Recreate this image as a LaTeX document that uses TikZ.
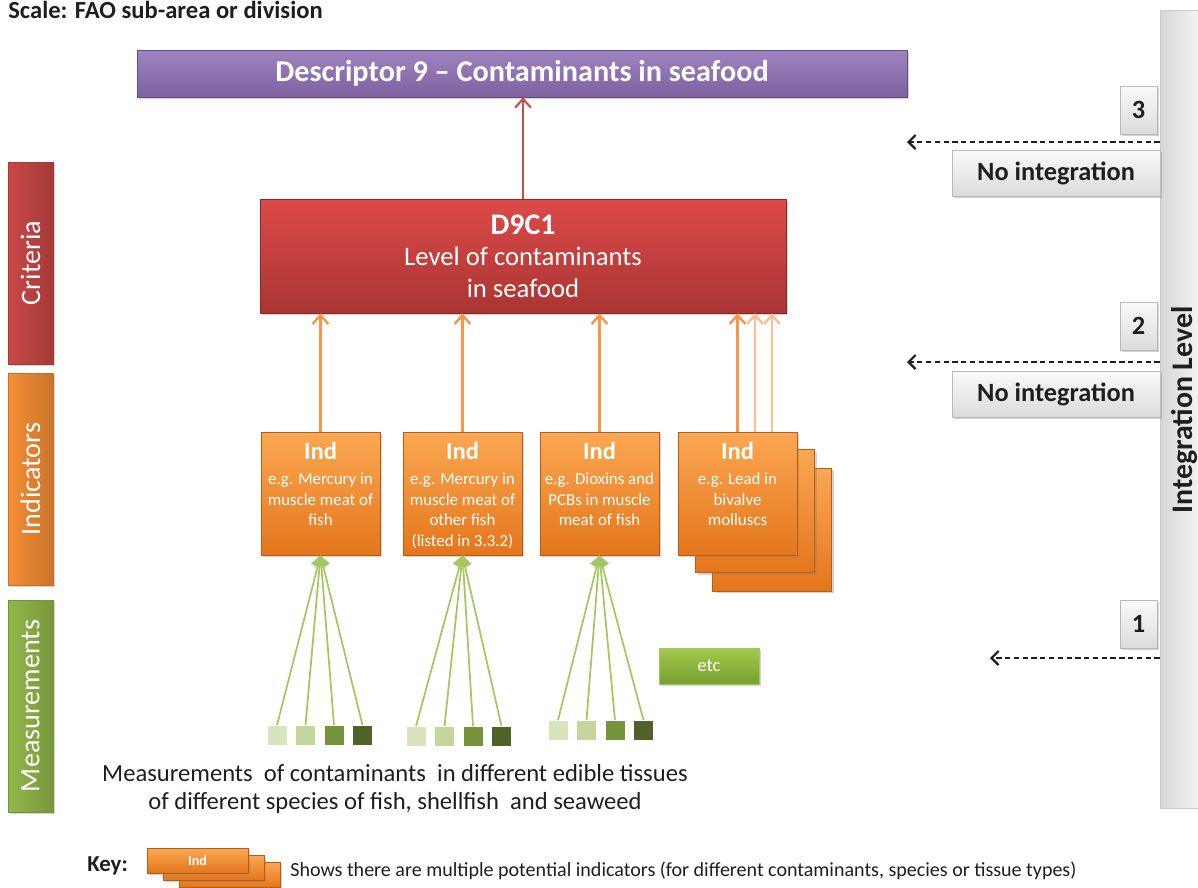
\documentclass[tikz,border=0pt]{standalone}
\usepackage{fontspec}
\setmainfont{Carlito}
\usepackage{tikz}
\usetikzlibrary{arrows.meta, shadows, positioning}

\definecolor{desctop}{HTML}{9E84C0}
\definecolor{descbot}{HTML}{7E619F}
\definecolor{crittop}{HTML}{DC4A48}
\definecolor{critbot}{HTML}{A93533}
\definecolor{indtop}{HTML}{FBA852}
\definecolor{indbot}{HTML}{E4761C}
\definecolor{grntop}{HTML}{A2C84E}
\definecolor{grnbot}{HTML}{76A030}
\definecolor{oline}{HTML}{F79646}
\definecolor{oline2}{HTML}{FAC090}
\definecolor{rline}{HTML}{C0504D}
\definecolor{gline}{HTML}{A5C663}
\definecolor{sqa}{HTML}{D7E4BD}
\definecolor{sqb}{HTML}{C3D69B}
\definecolor{sqc}{HTML}{77933C}
\definecolor{sqd}{HTML}{4F6228}
\definecolor{sidered}{HTML}{C94846}
\definecolor{sideorg}{HTML}{F58E34}
\definecolor{sidegrn}{HTML}{92B84A}
\definecolor{ink}{HTML}{1E1E1E}

\newcommand{\indhead}{{\fontsize{14}{16}\selectfont\bfseries Ind}}

\begin{document}
\begin{tikzpicture}[x=0.02cm, y=-0.02cm,
      shad/.style={drop shadow={opacity=.35, shadow xshift=1.2pt, shadow yshift=-1.2pt}},
      descbox/.style={draw=descbot!80!black, top color=desctop, bottom color=descbot, shad,
        minimum width=15.4cm, minimum height=.94cm, text=white,
        font=\fontsize{17.2}{20}\selectfont\bfseries},
      critbox/.style={draw=critbot!80!black, top color=crittop, bottom color=critbot, shad,
        minimum width=10.52cm, minimum height=2.28cm, text=white, align=center,
        font=\fontsize{15.2}{18}\selectfont},
      indbox/.style={draw=indbot!80!black, top color=indtop, bottom color=indbot, shad,
        minimum width=2.38cm, minimum height=2.46cm},
      indtxt/.style={text=white, align=center, inner sep=0pt,
        font=\fontsize{9.6}{11.7}\selectfont},
      sidebox/.style={draw=#1!80!black, left color=#1, right color=#1!82!black, shad,
        rotate=90, minimum height=.9cm, text=white, font=\fontsize{16}{19}\selectfont},
      greybox/.style={draw=gray!55, top color=gray!4, bottom color=gray!28, shad, text=ink,
        font=\fontsize{15}{18}\selectfont\bfseries},
      meas/.style={minimum size=.38cm, inner sep=0pt},
      oarrow/.style={draw=oline, line width=1.4pt, -{Straight Barb[length=5pt,width=9pt]}},
      garrow/.style={draw=gline, line width=1pt, -{Triangle[length=6pt,width=8pt]}},
      dasharrow/.style={draw=ink, line width=1.3pt, dash pattern=on 3pt off 2pt,
        -{Straight Barb[length=4pt,width=8pt]}}]
  \useasboundingbox (0,0) rectangle (1198,887);

  % scale
  \node[anchor=base west, inner sep=0pt, text=ink, font=\fontsize{14}{16}\selectfont\bfseries]
    (scale) at (8,18) {Scale: FAO sub-area or division};

  % side bars
  \node[sidebox=sidered, minimum width=4.04cm] (sidecrit) at (30.5,263) {Criteria};
  \node[sidebox=sideorg, minimum width=4.24cm] (sideind) at (30.5,479) {Indicators};
  \node[sidebox=sidegrn, minimum width=4.24cm] (sidemeas) at (30.5,706) {Measurements};

  % descriptor and criterion
  \node[descbox] (desc) at (522,73.5) {Descriptor 9 -- Contaminants in seafood};
  \node[critbox] (crit) at (523,256)
    {{\fontsize{17}{19}\selectfont\bfseries D9C1}\\ Level of contaminants\\ in seafood};
  \draw[draw=rline, line width=1.2pt, -{Straight Barb[length=5pt,width=9pt]}]
    (crit.north) -- (crit.north |- desc.south);

  % indicators
  \node[indbox] (ind4c) at (772,529.5) {};
  \node[indbox] (ind4b) at (755,511) {};
  \foreach \n/\x in {1/320.5,2/462.5,3/599.5,4/737.5}
    \node[indbox] (ind\n) at (\x,493.5) {};
  \node[indtxt, below=6pt of ind1.north] (ind1t)
    {\indhead\\[2.5pt] e.g. Mercury in\\ muscle meat of\\ fish};
  \node[indtxt, below=6pt of ind2.north] (ind2t)
    {\indhead\\[2.5pt] e.g. Mercury in\\ muscle meat of\\ other fish\\ (listed in 3.3.2)};
  \node[indtxt, below=6pt of ind3.north] (ind3t)
    {\indhead\\[2.5pt] e.g. Dioxins and\\ PCBs in muscle\\ meat of fish};
  \node[indtxt, below=6pt of ind4.north] (ind4t)
    {\indhead\\[2.5pt] e.g. Lead in\\ bivalve\\ molluscs};

  \foreach \n in {1,2,3,4}
    \draw[oarrow] (ind\n.north) -- (ind\n.north |- crit.south);
  \draw[oarrow, draw=oline2] (ind4b.north |- ind4.north) -- (ind4b.north |- crit.south);
  \draw[oarrow, draw=oline2] (ind4c.north |- ind4.north) -- (ind4c.north |- crit.south);

  % measurements
  \foreach \g/\sx/\sy in {1/277/735, 2/416/736, 3/558/730}
    \foreach \i/\c in {0/sqa, 1/sqb, 2/sqc, 3/sqd}{
      \node[meas, fill=\c] (m\g\i) at (\sx+28.5*\i,\sy) {};
      \draw[garrow] (m\g\i.north) -- (ind\g.south);
    }
  \node[draw=gline, top color=grntop, bottom color=grnbot, shad, minimum width=2cm,
    minimum height=.72cm, text=white, font=\fontsize{10.5}{12}\selectfont] (etc) at (709,666) {etc};

  \node[align=center, text=ink, font=\fontsize{14}{16}\selectfont] (meastext) at (395,789)
    {Measurements\ \ of contaminants\ \ in different edible tissues\\
     of different species of fish, shellfish\ \ and seaweed};

  % integration level
  \node[left color=gray!32, right color=gray!10, draw=gray!40, minimum width=.76cm,
    minimum height=15.96cm] (intbar) at (1179,409) {};
  \node[rotate=90, text=ink, font=\fontsize{17}{20}\selectfont\bfseries] (intlabel)
    at (1185,410) {Integration Level};

  \node[greybox, minimum width=.74cm, minimum height=.96cm] (lvl3) at (1138.5,110) {3};
  \node[greybox, minimum width=.74cm, minimum height=.96cm] (lvl2) at (1138.5,326) {2};
  \node[greybox, minimum width=.74cm, minimum height=.96cm] (lvl1) at (1138.5,624) {1};
  \node[greybox, minimum width=4.16cm, minimum height=.92cm] (noint3) at (1056,173) {No integration};
  \node[greybox, minimum width=4.16cm, minimum height=.92cm] (noint2) at (1056,394) {No integration};

  \coordinate (a3) at (907,142);
  \coordinate (a2) at (907,362);
  \coordinate (a1) at (990,658);
  \foreach \a in {a3,a2,a1}
    \draw[dasharrow] (intbar.west |- \a) -- (\a);

  % key
  \node[anchor=west, inner sep=0pt, text=ink, font=\fontsize{13}{15}\selectfont\bfseries]
    (key) at (87,866) {Key:};
  \node[indbox, minimum width=2.02cm, minimum height=.5cm] (keyc) at (229.5,874.5) {};
  \node[indbox, minimum width=2.02cm, minimum height=.5cm] (keyb) at (213.5,867.5) {};
  \node[indbox, minimum width=2.02cm, minimum height=.5cm, text=white,
    font=\fontsize{8}{9}\selectfont\bfseries] (keya) at (197.5,860.5) {Ind};
  \node[anchor=west, inner sep=0pt, text=ink, font=\fontsize{11.4}{13}\selectfont] (keytext)
    at (290,871) {Shows there are multiple potential indicators (for different contaminants, species or tissue types)};
\end{tikzpicture}
\end{document}
